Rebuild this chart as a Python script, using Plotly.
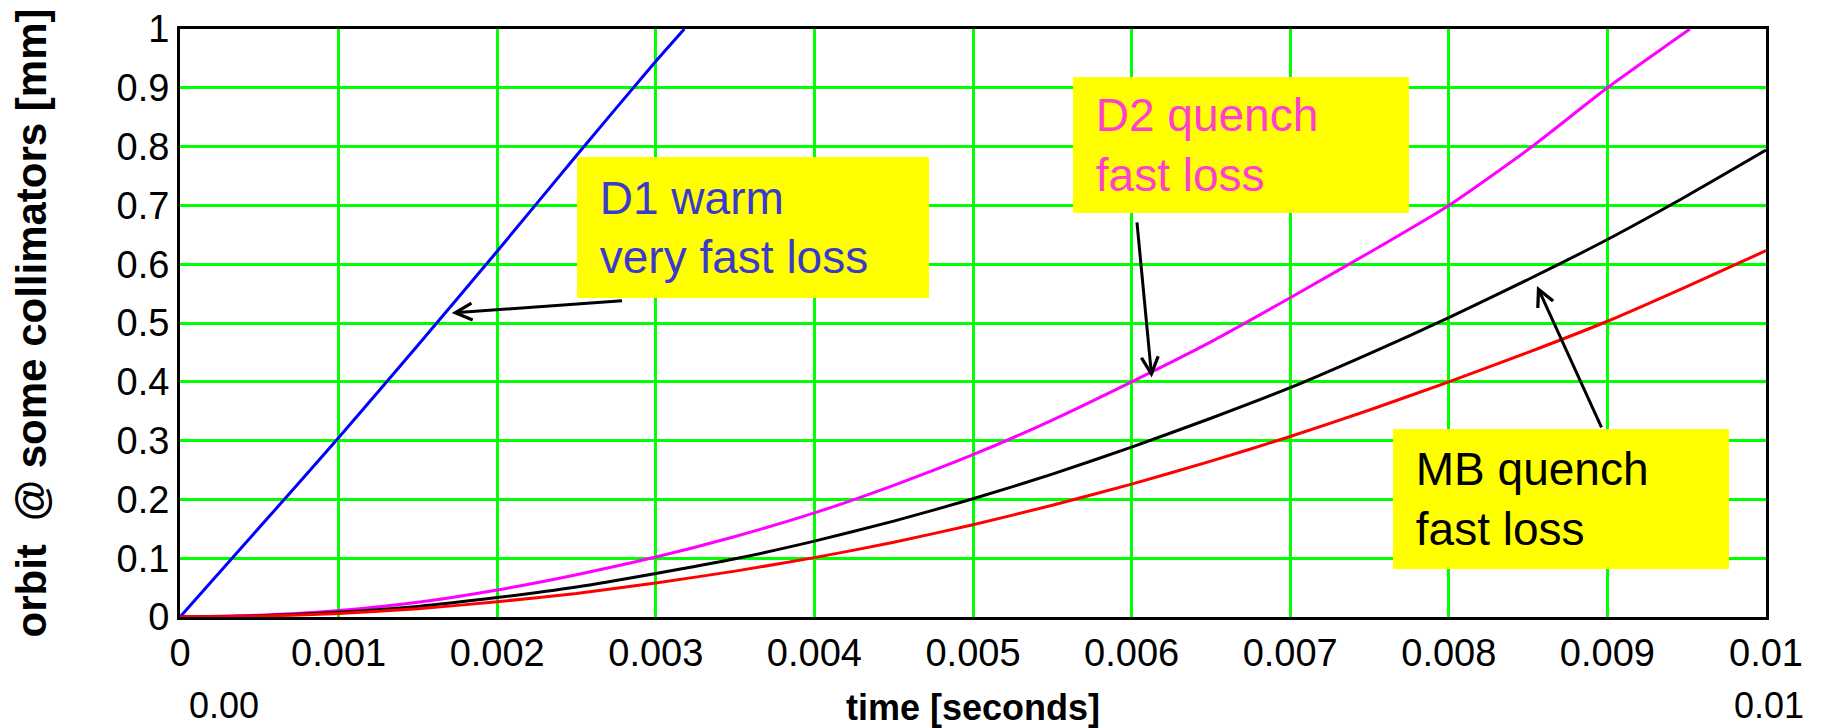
import plotly.graph_objects as go

# ---- data (time in seconds, orbit in mm) ----
t_d1 = [0, 0.0005, 0.001, 0.0015, 0.002, 0.0025, 0.003, 0.00318]
y_d1 = [0, 0.152, 0.305, 0.462, 0.622, 0.785, 0.945, 1.0]

t_d2 = [0, 0.0005, 0.001, 0.0015, 0.002, 0.0025, 0.003, 0.0035, 0.004, 0.0045,
        0.005, 0.0055, 0.006, 0.0065, 0.007, 0.0075, 0.008, 0.0085, 0.009, 0.00952]
y_d2 = [0, 0.003, 0.011, 0.025, 0.046, 0.072, 0.102, 0.137, 0.177, 0.224,
        0.276, 0.335, 0.400, 0.468, 0.543, 0.620, 0.700, 0.795, 0.900, 1.0]

t_mb = [0, 0.0005, 0.001, 0.0015, 0.002, 0.0025, 0.003, 0.0035, 0.004, 0.0045,
        0.005, 0.0055, 0.006, 0.0065, 0.007, 0.0075, 0.008, 0.0085, 0.009, 0.0095, 0.01]
y_mb_black = [0, 0.002, 0.008, 0.018, 0.033, 0.051, 0.074, 0.099, 0.129, 0.163,
              0.201, 0.243, 0.289, 0.338, 0.390, 0.448, 0.509, 0.574, 0.642, 0.716, 0.794]
y_mb_red = [0, 0.0015, 0.006, 0.014, 0.026, 0.040, 0.058, 0.078, 0.101, 0.127,
            0.157, 0.190, 0.226, 0.265, 0.307, 0.352, 0.400, 0.450, 0.503, 0.562, 0.623]

x_tickvals = [0, 0.001, 0.002, 0.003, 0.004, 0.005, 0.006, 0.007, 0.008, 0.009, 0.01]
x_ticktext = ["0", "0.001", "0.002", "0.003", "0.004", "0.005", "0.006", "0.007", "0.008", "0.009", "0.01"]
y_tickvals = [0, 0.1, 0.2, 0.3, 0.4, 0.5, 0.6, 0.7, 0.8, 0.9, 1.0]
y_ticktext = ["0", "0.1", "0.2", "0.3", "0.4", "0.5", "0.6", "0.7", "0.8", "0.9", "1"]

FONT = "Liberation Sans, Arial, sans-serif"
GREEN = "#00FF00"

fig = go.Figure()
series = [
    (t_d1, y_d1, "#0000FF"),
    (t_d2, y_d2, "#FF00FF"),
    (t_mb, y_mb_black, "#000000"),
    (t_mb, y_mb_red, "#FF0000"),
]
for xs, ys, col in series:
    fig.add_trace(go.Scatter(x=xs, y=ys, mode="lines", line=dict(color=col, width=3, shape="spline", smoothing=0.6),
                             showlegend=False, hoverinfo="skip", cliponaxis=True))

NB = "\u00a0"
boxes = [
    # text, color, x, y, total width, total height
    (NB + "D1 warm<br>" + NB + "very fast loss", "#3A3ACC", 0.003612, 0.663, 352, 141),
    (NB + "D2 quench<br>" + NB + "fast loss", "#FF3FCF", 0.00669, 0.803, 336, 136),
    (NB + "MB quench<br>" + NB + "fast loss", "#000000", 0.00871, 0.201, 336, 140),
]
annotations = []
for txt, col, bx, by, bw, bh in boxes:
    annotations.append(dict(x=bx, y=by, xref="x", yref="y", text=txt, showarrow=False,
                            align="left", valign="middle", xanchor="center", yanchor="middle",
                            width=bw - 20, height=bh - 20, borderpad=10, borderwidth=0,
                            bgcolor="#FFFF00", font=dict(family=FONT, size=46, color=col)))

arrows = [
    # head x, head y, tail x, tail y
    (0.001713, 0.517, 0.002796, 0.538),
    (0.006127, 0.4075, 0.006033, 0.6735),
    (0.008556, 0.563, 0.008967, 0.320),
]
for hx, hy, tx, ty in arrows:
    annotations.append(dict(x=hx, y=hy, ax=tx, ay=ty, xref="x", yref="y", axref="x", ayref="y",
                            text="", showarrow=True, arrowhead=5, arrowsize=1.1, arrowwidth=3,
                            arrowcolor="#000000", standoff=0))

annotations.append(dict(x=0, y=-0.150, xref="x", yref="paper", text="0.00", showarrow=False,
                        xanchor="left", yanchor="middle", xshift=7,
                        font=dict(family=FONT, size=36, color="#000000")))
annotations.append(dict(x=0.01, y=-0.150, xref="x", yref="paper", text="0.01", showarrow=False,
                        xanchor="right", yanchor="middle", xshift=40,
                        font=dict(family=FONT, size=36, color="#000000")))

# the page adds an 8px body margin, so the figure is 8px smaller and margins shifted
fig.update_layout(
    width=1813, height=720,
    margin=dict(l=172, r=55, t=21, b=111, autoexpand=False),
    paper_bgcolor="#FFFFFF", plot_bgcolor="#FFFFFF",
    font=dict(family=FONT, size=38, color="#000000"),
    annotations=annotations,
    showlegend=False,
)
fig.update_xaxes(range=[0, 0.01], tickvals=x_tickvals, ticktext=x_ticktext, automargin=False,
                 showgrid=True, gridcolor=GREEN, gridwidth=3, zeroline=False,
                 showline=True, linecolor="#000000", linewidth=3, mirror=True,
                 ticks="", tickfont=dict(family=FONT, size=38),
                 title=dict(text="time [seconds]", font=dict(family=FONT, size=36, weight="bold"), standoff=36))
fig.update_yaxes(range=[0, 1], tickvals=y_tickvals, ticktext=y_ticktext, automargin=False,
                 showgrid=True, gridcolor=GREEN, gridwidth=3, zeroline=False,
                 showline=True, linecolor="#000000", linewidth=3, mirror=True,
                 ticks="", tickfont=dict(family=FONT, size=38),
                 title=dict(text="orbit\u00a0 @ some collimators [mm]", font=dict(family=FONT, size=42, weight="bold"), standoff=69))

fig.write_html("out.html")
